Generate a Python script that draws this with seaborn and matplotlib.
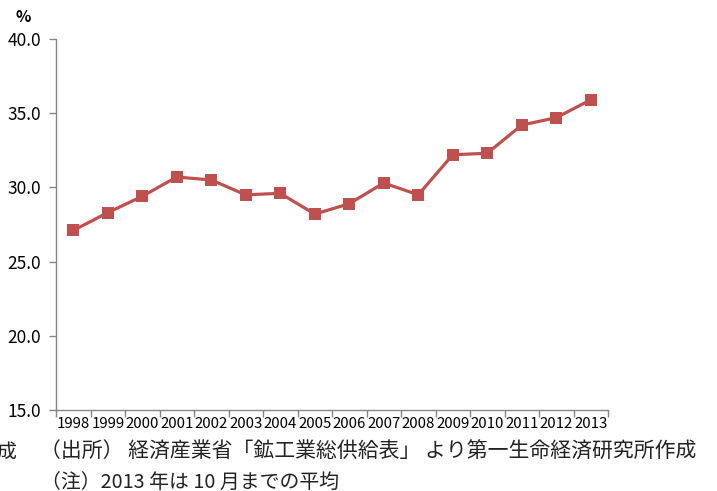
import matplotlib
matplotlib.use("Agg")
import matplotlib.pyplot as plt
import seaborn as sns
import pandas as pd

years = [1998, 1999, 2000, 2001, 2002, 2003, 2004, 2005,
         2006, 2007, 2008, 2009, 2010, 2011, 2012, 2013]
share = [27.1, 28.3, 29.4, 30.7, 30.5, 29.5, 29.6, 28.2,
         28.9, 30.3, 29.5, 32.2, 32.3, 34.2, 34.7, 35.9]
y_ticks = [15.0, 20.0, 25.0, 30.0, 35.0, 40.0]
unit_label = "%"
source_note = "（出所） 経済産業省「鉱工業総供給表」 より第一生命経済研究所作成"
footnote = "（注）2013 年は 10 月までの平均"

sns.set_theme(style="white")
jp = ["Noto Sans CJK JP", "DejaVu Sans"]
plt.rcParams["font.family"] = jp
plt.rcParams["text.color"] = "black"
plt.rcParams["xtick.color"] = "black"
plt.rcParams["ytick.color"] = "black"

W, H = 717, 491
fig = plt.figure(figsize=(W / 100, H / 100), dpi=100)
ax = fig.add_axes([56 / W, 1 - 410 / H, (608 - 56) / W, (410 - 39) / H])

df = pd.DataFrame({"year": years, "share": share})
sns.lineplot(data=df, x="year", y="share", ax=ax, color="#C0504D",
             linewidth=2.3, marker="s", markersize=8.5,
             markeredgecolor="#C0504D", markeredgewidth=0)

ax.set_xlim(years[0] - 0.5, years[-1] + 0.5)
ax.set_ylim(y_ticks[0], y_ticks[-1])
ax.set_xlabel("")
ax.set_ylabel("")

# category boundaries carry the tick marks, labels sit at the centres
ax.set_xticks([y - 0.5 for y in years] + [years[-1] + 0.5])
ax.set_xticklabels([])
ax.set_xticks(years, minor=True)
ax.set_xticklabels([str(y) for y in years], minor=True, fontsize=10.8)
ax.tick_params(axis="x", which="major", direction="out", length=5, width=1,
               color="#868686", bottom=True)
ax.tick_params(axis="x", which="minor", length=0, pad=5, bottom=True,
               labelcolor="black")

ax.set_yticks(y_ticks)
ax.set_yticklabels([f"{v:.1f}" for v in y_ticks], fontsize=12.5)
ax.tick_params(axis="y", direction="out", length=5, width=1, color="#868686",
               left=True, pad=5.5, labelcolor="black")

for side in ("top", "right"):
    ax.spines[side].set_visible(False)
for side in ("left", "bottom"):
    ax.spines[side].set_color("#868686")
    ax.spines[side].set_linewidth(1)
ax.grid(False)

fig.text(16 / W, 1 - 17 / H, unit_label, fontsize=11.5, va="center", ha="left",
         color="black", fontweight="bold")
fig.text(40 / W, 1 - 452 / H, source_note, fontsize=15, va="center", ha="left",
         color="#222222")
fig.text(41 / W, 1 - 482 / H, footnote, fontsize=14.3, va="center", ha="left",
         color="#222222")
fig.text(-4 / W, 1 - 452 / H, "成", fontsize=14.3, va="center", ha="left",
         color="#222222")

fig.savefig("out.png", dpi=100, facecolor="white")
